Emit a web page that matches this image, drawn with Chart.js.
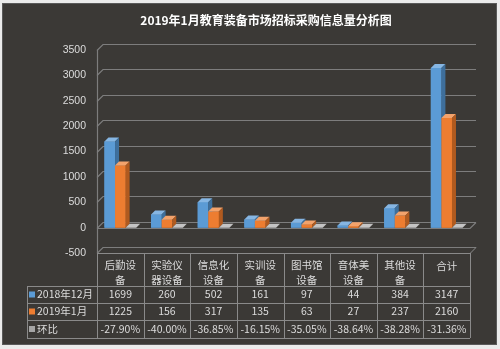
<!DOCTYPE html>
<html>
<head>
<meta charset="utf-8">
<script src="https://cdn.jsdelivr.net/npm/chart.js@4/dist/chart.umd.min.js"></script>
<style>
  html, body { margin: 0; padding: 0; background: #ebebeb; }
  #wrap { width: 500px; height: 349px; }
</style>
</head>
<body>
<div id="wrap"><canvas id="c" width="500" height="349"></canvas></div>
<script>
// --- datos ---
const categories = [['后勤设', '备'], ['实验仪', '器设备'], ['信息化', '设备'], ['实训设', '备'],
  ['图书馆', '设备'], ['音体美', '设备'], ['其他设', '备'], ['合计']];
const seriesNames = ['2018年12月', '2019年1月', '环比'];
const dec2018 = [1699, 260, 502, 161, 97, 44, 384, 3147];
const jan2019 = [1225, 156, 317, 135, 63, 27, 237, 2160];
const momPct = [-27.90, -40.00, -36.85, -16.15, -35.05, -38.64, -38.28, -31.36];
const yTicks = [-500, 0, 500, 1000, 1500, 2000, 2500, 3000, 3500];

// colores: frente, arriba, lado
const faces = [
  ['#5b9bd5', '#86b6e3', '#3e6f9c'],
  ['#ed7d31', '#f3a36c', '#b05a1f'],
  ['#a5a5a5', '#c4c4c4', '#7a7a7a']
];
const DX = 6, DY = 6, BD = 4;
const TXT = '#dcdcdc';
const CJK = '"Noto Sans CJK SC", sans-serif';

const bgPlugin = {
  id: 'bg',
  beforeDraw(chart) {
    const c = chart.ctx;
    c.save();
    c.fillStyle = '#ebebeb';
    c.fillRect(0, 0, chart.width, chart.height);
    c.fillStyle = '#3b3936';
    c.fillRect(2, 3, 495, 342);
    c.strokeStyle = '#5a5a5a';
    c.lineWidth = 1;
    c.strokeRect(2.5, 3.5, 494, 341);
    c.fillStyle = '#ffffff';
    c.font = 'bold 12px ' + CJK;
    c.textAlign = 'center';
    c.textBaseline = 'middle';
    c.fillText('2019年1月教育装备市场招标采购信息量分析图', 266, 20);
    c.restore();
  }
};

const wallPlugin = {
  id: 'wall',
  beforeDatasetsDraw(chart) {
    const c = chart.ctx, a = chart.chartArea, y = chart.scales.y;
    c.save();
    c.strokeStyle = '#7d7d7d';
    c.lineWidth = 1.2;
    yTicks.forEach(v => {
      const py = Math.round(y.getPixelForValue(v)) + 0.5;
      c.beginPath();
      c.moveTo(a.left, py);
      c.lineTo(a.left + DX, py - DY);
      c.lineTo(a.right + DX, py - DY);
      c.stroke();
    });
    // linea frontal del cero y borde izquierdo
    const y0 = Math.round(y.getPixelForValue(0)) + 0.5;
    c.beginPath();
    c.moveTo(a.left, y0); c.lineTo(a.right, y0); c.lineTo(a.right + DX, y0 - DY);
    c.stroke();
    c.beginPath();
    c.moveTo(a.left + 0.5, a.top); c.lineTo(a.left + 0.5, a.bottom);
    c.stroke();
    c.restore();
  }
};

const bars3d = {
  id: 'bars3d',
  afterDatasetsDraw(chart) {
    const c = chart.ctx;
    c.save();
    for (let i = 0; i < categories.length; i++) {
      chart.data.datasets.forEach((ds, d) => {
        const el = chart.getDatasetMeta(d).data[i];
        const l = el.x - el.width / 2, r = el.x + el.width / 2;
        const top = Math.min(el.y, el.base), bot = Math.max(el.y, el.base);
        const f = faces[d];
        c.fillStyle = f[0];
        c.fillRect(l, top, r - l, bot - top);
        c.fillStyle = f[1];
        c.beginPath();
        c.moveTo(l, top); c.lineTo(l + BD, top - BD); c.lineTo(r + BD, top - BD); c.lineTo(r, top);
        c.closePath(); c.fill();
        c.fillStyle = f[2];
        c.beginPath();
        c.moveTo(r, top); c.lineTo(r + BD, top - BD); c.lineTo(r + BD, bot - BD); c.lineTo(r, bot);
        c.closePath(); c.fill();
      });
    }
    c.restore();
  }
};

const tablePlugin = {
  id: 'table',
  afterDraw(chart) {
    const c = chart.ctx, a = chart.chartArea, x = chart.scales.x;
    const half = (x.getPixelForValue(1) - x.getPixelForValue(0)) / 2;
    const top = a.bottom, labelLeft = 27;
    const rows = [top + 33, top + 50, top + 67, top + 85];
    c.save();
    c.strokeStyle = '#8a8a8a';
    c.lineWidth = 1;
    c.beginPath();
    c.moveTo(a.left, top + 0.5); c.lineTo(a.right, top + 0.5); c.lineTo(a.right + DX, top + 0.5 - DY);
    rows.forEach(ry => { c.moveTo(labelLeft, ry + 0.5); c.lineTo(a.right, ry + 0.5); });
    for (let i = 0; i <= categories.length; i++) {
      const bx = Math.round(x.getPixelForValue(i) - half) + 0.5;
      c.moveTo(bx, top); c.lineTo(bx, rows[3]);
    }
    c.moveTo(labelLeft + 0.5, rows[0]); c.lineTo(labelLeft + 0.5, rows[3]);
    c.stroke();

    c.fillStyle = TXT;
    c.font = '10.5px ' + CJK;
    c.textAlign = 'center';
    c.textBaseline = 'middle';
    categories.forEach((lab, i) => {
      const cx = x.getPixelForValue(i);
      if (lab.length === 1) c.fillText(lab[0], cx, top + 13);
      else { c.fillText(lab[0], cx, top + 12); c.fillText(lab[1], cx, top + 27); }
      c.fillText(String(dec2018[i]), cx, rows[0] + 8.5);
      c.fillText(String(jan2019[i]), cx, rows[1] + 8.5);
      c.fillText(momPct[i].toFixed(2) + '%', cx, rows[2] + 9);
    });
    c.textAlign = 'left';
    seriesNames.forEach((n, k) => {
      const cy = rows[k] + (k === 2 ? 9 : 8.5);
      c.fillStyle = faces[k][0];
      c.fillRect(29, cy - 3, 6, 6);
      c.fillStyle = TXT;
      c.fillText(n, 37, cy);
    });
    c.restore();
  }
};

new Chart(document.getElementById('c'), {
  type: 'bar',
  data: {
    labels: categories,
    datasets: [
      { label: seriesNames[0], data: dec2018, backgroundColor: faces[0][0] },
      { label: seriesNames[1], data: jan2019, backgroundColor: faces[1][0] },
      { label: seriesNames[2], data: momPct.map(v => v / 100), backgroundColor: faces[2][0] }
    ]
  },
  options: {
    responsive: false,
    animation: false,
    layout: { padding: { top: 50, bottom: 96, right: 30, left: 0 } },
    datasets: { bar: { categoryPercentage: 0.68, barPercentage: 1 } },
    plugins: { legend: { display: false }, title: { display: false }, tooltip: { enabled: false } },
    scales: {
      x: { display: false },
      y: {
        min: -500, max: 3500,
        ticks: {
          stepSize: 500, color: TXT, padding: 11,
          font: { family: 'Liberation Sans', size: 10.5 },
          callback: v => String(v)
        },
        grid: { display: false, drawTicks: false },
        border: { display: false },
        afterFit(s) { s.width = 97; }
      }
    }
  },
  plugins: [bgPlugin, wallPlugin, bars3d, tablePlugin]
});
</script>
</body>
</html>
